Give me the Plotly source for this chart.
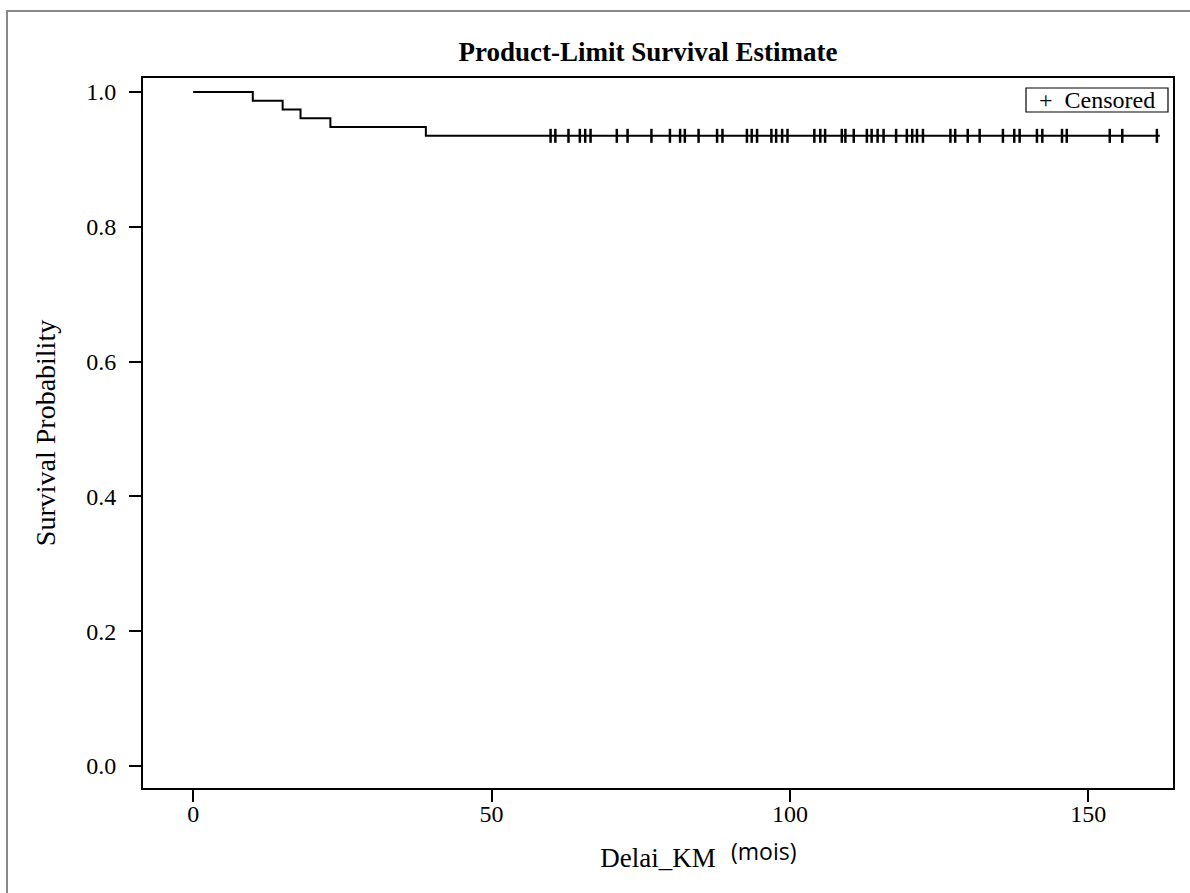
import plotly.graph_objects as go

# Kaplan-Meier step data (time in months, survival probability)
event_times = [0, 10, 15, 18, 23, 39]
survival = [1.0, 0.987, 0.974, 0.961, 0.948, 0.935]

# Censored observation times
censor_times = [59.9, 60.7, 62.9, 64.8, 65.7, 66.6, 71.0, 72.8, 76.8, 79.9, 81.6, 82.4,
                84.7, 87.8, 88.7, 92.8, 93.6, 94.5, 96.9, 97.7, 98.7, 99.6, 104.1, 105.1,
                105.9, 108.7, 109.3, 110.7, 112.9, 113.7, 114.7, 115.7, 117.8, 119.6, 120.5,
                121.3, 122.3, 126.9, 127.7, 129.8, 131.8, 135.7, 137.6, 138.5, 141.4, 142.3,
                145.6, 146.4, 153.6, 155.7, 161.5]

x_ticks = [0, 50, 100, 150]
y_ticks = [0.0, 0.2, 0.4, 0.6, 0.8, 1.0]

W, H = 1190, 893
L, R, T, B = 143, 17, 78, 105

def surv_at(t):
    s = survival[0]
    for et, sv in zip(event_times, survival):
        if t >= et:
            s = sv
    return s

line_x = event_times + [censor_times[-1] + 0.5]
line_y = survival + [survival[-1]]

serif = "Liberation Serif"

fig = go.Figure()
fig.add_trace(go.Scatter(
    x=line_x, y=line_y, mode="lines", line=dict(color="black", width=2, shape="hv"),
    showlegend=False, hoverinfo="skip"))
fig.add_trace(go.Scatter(
    x=censor_times, y=[surv_at(t) for t in censor_times], mode="markers",
    marker=dict(symbol="line-ns-open", size=10, color="black", line=dict(color="black", width=2.5)),
    name="Censored", showlegend=False))

pw = W - L - R
ph = H - T - B
def px_x(p):
    return (p - L) / pw
def px_y(p):
    return (H - B - p) / ph

fig.update_layout(
    width=W, height=H,
    margin=dict(l=L, r=R, t=T, b=B),
    plot_bgcolor="white", paper_bgcolor="white",
    font=dict(family=serif, color="black"),
    title=dict(text="<b>Product-Limit Survival Estimate</b>", xref="container", x=648 / W,
               xanchor="center", y=1 - 52 / H, yanchor="middle",
               font=dict(family=serif, size=27, color="black")),
    xaxis=dict(range=[-8.4, 164.2], tickvals=x_ticks, ticktext=[str(v) for v in x_ticks],
               showgrid=False, zeroline=False, ticks="outside", ticklen=12, tickwidth=1.5,
               tickcolor="black", showline=True, linecolor="black", linewidth=2, mirror=True,
               tickfont=dict(family=serif, size=24), ticklabelstandoff=-9,
               title=dict(text="Delai_KM", font=dict(family=serif, size=27), standoff=22)),
    yaxis=dict(range=[-0.0326, 1.0208], tickvals=y_ticks, ticktext=[f"{v:.1f}" for v in y_ticks],
               showgrid=False, zeroline=False, ticks="outside", ticklen=12, tickwidth=1.5,
               tickcolor="black", showline=True, linecolor="black", linewidth=2, mirror=True,
               tickfont=dict(family=serif, size=24), ticklabelstandoff=8,
               title=dict(text="Survival Probability", font=dict(family=serif, size=28), standoff=22)),
    shapes=[
        dict(type="rect", xref="paper", yref="paper",
             x0=px_x(7), x1=px_x(1196), y0=px_y(899), y1=px_y(11),
             line=dict(color="#888888", width=2), fillcolor="rgba(0,0,0,0)", layer="below"),
        dict(type="rect", xref="paper", yref="paper",
             x0=px_x(1026), x1=px_x(1168), y0=px_y(112), y1=px_y(88),
             line=dict(color="black", width=1.2), fillcolor="white", layer="above"),
    ],
    annotations=[
        dict(text="(mois)", xref="paper", yref="paper", x=px_x(763), y=px_y(851),
             xanchor="center", yanchor="middle", showarrow=False,
             font=dict(family="Open Sans", size=23, color="black")),
        dict(text="+  Censored", xref="paper", yref="paper", x=px_x(1097), y=px_y(100),
             xanchor="center", yanchor="middle", showarrow=False,
             font=dict(family=serif, size=24, color="black")),
    ],
)

fig.write_html("out.html", config={"displayModeBar": False},
               post_script="document.body.style.margin='0px';document.body.style.overflow='hidden';")
